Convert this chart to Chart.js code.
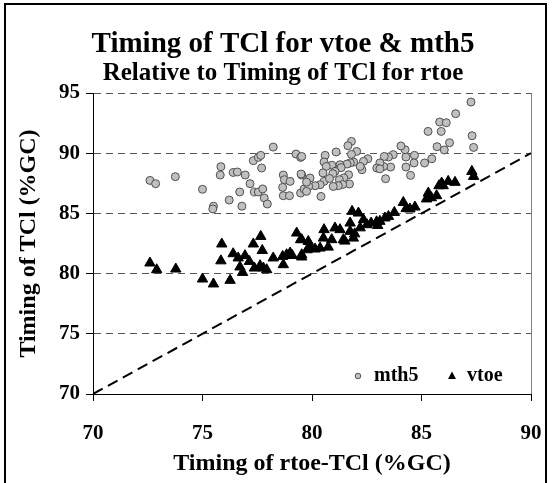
<!DOCTYPE html>
<html>
<head>
<meta charset="utf-8">
<script src="https://cdn.jsdelivr.net/npm/chart.js@4.4.0/dist/chart.umd.min.js"></script>
<style>
  html, body { margin: 0; padding: 0; background: #fff; }
</style>
</head>
<body>
<canvas id="timingChart" width="553" height="483"></canvas>
<script>
// ==============================
// DATA
// ==============================
const seriesNames = ["mth5", "vtoe"];

const mth5X = [72.6, 72.86, 73.76, 75.0, 75.5, 75.47, 75.84, 75.81, 76.22, 76.4,
  76.59, 76.7, 76.8, 76.95, 77.17, 77.32, 77.55, 77.66, 77.7, 77.37,
  77.55, 77.75, 77.82, 77.96, 78.23, 78.69, 78.74, 79.0, 78.66, 78.69,
  78.97, 79.27, 79.48, 79.53, 79.48, 79.64, 87.26, 86.56, 85.83, 86.13,
  85.3, 85.9, 87.31, 87.38, 86.28, 85.71, 86.04, 85.47, 85.14, 84.68,
  84.66, 84.5, 84.29, 84.29, 84.25, 84.06, 83.71, 83.59, 83.49, 83.3,
  83.36, 83.27, 83.1, 82.96, 83.1, 82.55, 82.35, 82.28, 82.2, 82.04,
  81.8, 81.64, 81.8, 81.9, 81.75, 81.6, 81.1, 80.6, 80.55, 80.91,
  80.65, 81.28, 81.33, 81.05, 80.95, 81.67, 81.45, 81.25, 80.5, 80.55,
  80.37, 80.14, 81.71, 81.4, 81.2, 80.97, 80.8, 79.91, 79.85, 79.75,
  79.5, 79.53, 80.41, 79.75];
const mth5Y = [87.74, 87.47, 88.05, 87.0, 85.6, 85.37, 88.88, 88.19, 86.11, 88.4,
  88.44, 86.78, 85.6, 88.19, 87.47, 89.38, 89.65, 89.82, 88.77, 86.78,
  86.78, 87.03, 86.28, 85.78, 90.51, 88.19, 87.8, 87.66, 87.16, 86.47,
  86.47, 89.93, 89.65, 88.19, 86.69, 87.03, 94.25, 93.28, 92.59, 92.53,
  91.81, 91.81, 91.45, 90.48, 90.87, 90.54, 90.27, 89.54, 89.19, 89.82,
  89.19, 88.16, 88.85, 89.68, 90.29, 90.6, 89.88, 88.85, 89.68, 89.73,
  87.88, 88.9, 89.19, 88.77, 88.7, 89.54, 89.32, 88.63, 88.9, 90.15,
  90.98, 90.62, 89.9, 89.27, 89.2, 89.1, 90.1, 89.82, 89.27, 89.0,
  88.9, 89.04, 88.8, 88.49, 88.3, 88.21, 87.95, 87.8, 88.36, 87.66,
  87.38, 87.3, 87.44, 87.4, 87.3, 87.24, 87.9, 87.94, 87.24, 86.83,
  88.27, 89.73, 86.41, 87.6];

const vtoeX = [72.6, 72.91, 73.78, 75.0, 75.5, 76.26, 75.84, 75.88, 76.4, 76.63,
  76.71, 76.83, 76.94, 77.14, 77.32, 77.66, 77.73, 77.37, 77.63, 77.78,
  77.93, 78.23, 78.66, 78.69, 78.84, 79.0, 79.1, 79.3, 79.48, 79.53,
  87.3, 87.38, 86.53, 86.22, 85.92, 85.8, 85.99, 85.69, 85.23, 85.45,
  85.31, 84.7, 84.47, 84.17, 84.3, 83.76, 83.49, 83.33, 83.1, 82.95,
  82.51, 82.35, 82.12, 81.83, 81.74, 81.74, 81.89, 81.43, 81.28, 81.05,
  81.5, 80.9, 80.55, 80.52, 80.74, 80.37, 80.14, 79.83, 79.78, 79.53,
  79.53, 79.9, 82.7, 83.0, 82.2, 81.95];
const vtoeY = [80.88, 80.32, 80.38, 79.55, 79.14, 79.44, 81.06, 82.46, 81.65, 81.3,
  80.55, 80.1, 81.49, 81.01, 82.46, 83.09, 81.92, 80.46, 80.66, 80.46,
  80.32, 81.3, 81.43, 80.74, 81.57, 81.71, 81.5, 83.37, 82.82, 81.57,
  88.49, 88.07, 87.58, 87.66, 87.52, 87.3, 87.3, 86.47, 86.2, 86.3,
  86.69, 85.53, 85.37, 85.91, 85.4, 85.08, 84.75, 84.62, 84.34, 84.3,
  84.06, 84.48, 85.03, 85.17, 84.2, 83.51, 82.95, 82.82, 83.65, 83.79,
  82.7, 82.82, 83.65, 82.95, 82.2, 82.12, 82.04, 82.67, 81.98, 82.82,
  81.38, 82.3, 84.2, 84.0, 83.8, 83.3];

// 1:1 reference line
const refLineX = [70, 90];
const refLineY = [70, 90];

const xTicks = [70, 75, 80, 85, 90];
const yTicks = [70, 75, 80, 85, 90, 95];

const FONT = "'Liberation Serif', 'Times New Roman', serif";

Chart.defaults.font.family = FONT;
Chart.defaults.font.weight = "bold";
Chart.defaults.color = "#000";

function toPoints(xs, ys) {
    return xs.map((x, i) => ({ x: x, y: ys[i] }));
}


// ==============================
// PLUGINS
// ==============================
const framePlugin = {
    id: "frame",
    beforeDraw(chart) {
        const ctx = chart.ctx;
        ctx.save();
        ctx.fillStyle = "#fff";
        ctx.fillRect(0, 0, chart.width, chart.height);
        ctx.strokeStyle = "#000";
        ctx.lineWidth = 2;
        ctx.strokeRect(5, 4, 541, 500);
        ctx.restore();
    }
};

// legend sits inside the plot, bottom right
const legendPlugin = {
    id: "innerLegend",
    afterDraw(chart) {
        const ctx = chart.ctx;
        const y = 376;
        ctx.save();
        ctx.font = "bold 20px " + FONT;
        ctx.textBaseline = "middle";
        ctx.fillStyle = "#000";

        // circle marker
        ctx.beginPath();
        ctx.arc(358, y, 2.8, 0, Math.PI * 2);
        ctx.fillStyle = "#c0c0c0";
        ctx.fill();
        ctx.strokeStyle = "#555";
        ctx.lineWidth = 1;
        ctx.stroke();
        ctx.fillStyle = "#000";
        ctx.fillText(seriesNames[0], 374, y);

        // triangle marker
        ctx.beginPath();
        ctx.moveTo(452, y - 4.5);
        ctx.lineTo(456, y + 3);
        ctx.lineTo(448, y + 3);
        ctx.closePath();
        ctx.fill();
        ctx.fillText(seriesNames[1], 467, y);
        ctx.restore();
    }
};


// ==============================
// CHART
// ==============================
const ctx = document.getElementById("timingChart");

new Chart(ctx, {
    type: "scatter",
    data: {
        datasets: [
            {
                label: seriesNames[0],
                data: toPoints(mth5X, mth5Y),
                pointStyle: "circle",
                pointRadius: 4,
                backgroundColor: "#c0c0c0",
                borderColor: "#505050",
                borderWidth: 1
            },
            {
                label: seriesNames[1],
                data: toPoints(vtoeX, vtoeY),
                pointStyle: "triangle",
                pointRadius: 6,
                backgroundColor: "#000",
                borderColor: "#000",
                borderWidth: 1
            },
            {
                type: "line",
                label: "1:1",
                data: toPoints(refLineX, refLineY),
                borderColor: "#000",
                borderWidth: 2,
                borderDash: [11, 6],
                pointRadius: 0,
                fill: false
            }
        ]
    },
    options: {
        responsive: false,
        animation: false,
        layout: { padding: { left: 13, right: 0, top: 0, bottom: 0 } },
        plugins: {
            legend: { display: false },
            tooltip: { enabled: false },
            title: {
                display: true,
                text: "Timing of TCl for vtoe & mth5",
                color: "#000",
                font: { family: FONT, size: 29, weight: "bold", lineHeight: 1 },
                padding: { top: 30, bottom: 0 }
            },
            subtitle: {
                display: true,
                text: "Relative to Timing of TCl for rtoe",
                color: "#000",
                font: { family: FONT, size: 25, weight: "bold", lineHeight: 1 },
                padding: { top: 2, bottom: 7 }
            }
        },
        scales: {
            x: {
                type: "linear",
                position: "bottom",
                min: 70,
                max: 90,
                afterBuildTicks: s => { s.ticks = xTicks.map(v => ({ value: v })); },
                afterFit: s => {
                    s.height = 89;
                    // the big label gap should not eat into the plot width
                    s.paddingLeft = 0;
                    s.paddingRight = 0;
                },
                ticks: {
                    color: "#000",
                    padding: 20,
                    font: { family: FONT, size: 21, weight: "bold" }
                },
                grid: {
                    color: c => (c.tick && c.tick.value === 90 ? "#808080" : "rgba(0,0,0,0)"),
                    tickColor: "#000",
                    tickLength: 7
                },
                border: { display: true, color: "#000", width: 1 },
                title: {
                    display: true,
                    text: "Timing of rtoe-TCl (%GC)",
                    color: "#000",
                    font: { family: FONT, size: 24, weight: "bold" },
                    padding: { top: 0, bottom: 5 }
                }
            },
            y: {
                type: "linear",
                position: "left",
                min: 70,
                max: 95,
                afterBuildTicks: s => { s.ticks = yTicks.map(v => ({ value: v })); },
                afterFit: s => { s.width = 80; },
                ticks: {
                    color: "#000",
                    padding: 6,
                    font: { family: FONT, size: 21, weight: "bold" }
                },
                grid: {
                    color: c => (c.tick && c.tick.value === 70 ? "rgba(0,0,0,0)" : "#555"),
                    tickColor: "#000",
                    tickLength: 7
                },
                border: { display: true, color: "#000", width: 1, dash: [7, 5] },
                title: {
                    display: true,
                    text: "Timing of TCl (%GC)",
                    color: "#000",
                    font: { family: FONT, size: 24, weight: "bold" },
                    padding: { top: 1, bottom: 0 }
                }
            },
            // spacer on the right so the plot ends where the original does
            yRight: {
                type: "linear",
                position: "right",
                display: true,
                afterFit: s => { s.width = 22; },
                ticks: { display: false },
                grid: { display: false },
                border: { display: false }
            }
        }
    },
    plugins: [framePlugin, legendPlugin]
});
</script>
</body>
</html>
